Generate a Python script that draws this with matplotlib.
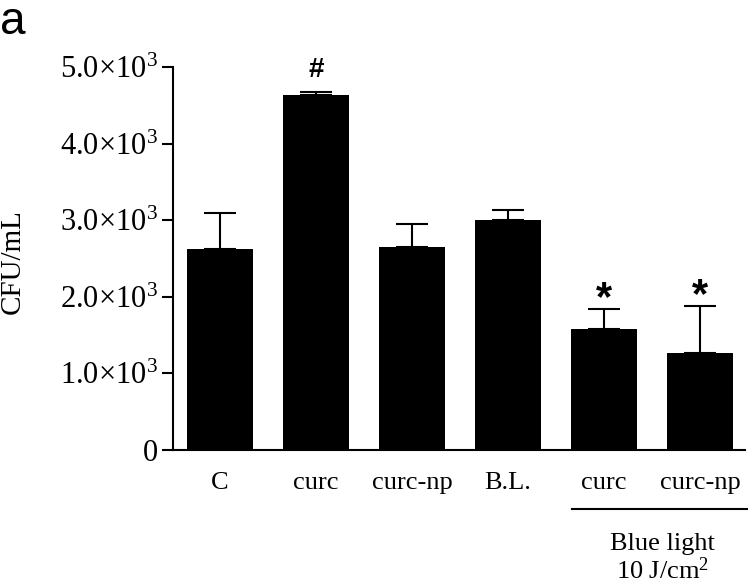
import numpy as np
import matplotlib.pyplot as plt

# data (CFU/mL, x10^3)
groups = ['C', 'curc', 'curc-np', 'B.L.', 'curc', 'curc-np']
means = np.array([2.63, 4.63, 2.65, 3.00, 1.58, 1.27]) * 1e3
errs = np.array([0.47, 0.04, 0.30, 0.13, 0.26, 0.61]) * 1e3
marks = ['', '#', '', '', '*', '*']
yticks = [0, 1000, 2000, 3000, 4000, 5000]
yticklabels = ['0'] + [r'$%d.0{\times}10^{3}$' % k for k in range(1, 6)]

serif = ['Liberation Serif', 'DejaVu Serif']
plt.rcParams['font.family'] = serif
plt.rcParams['font.size'] = 19
plt.rcParams['mathtext.fontset'] = 'custom'
plt.rcParams['mathtext.rm'] = 'Liberation Serif'
plt.rcParams['mathtext.it'] = 'Liberation Serif'
plt.rcParams['mathtext.default'] = 'regular'

fig = plt.figure(figsize=(7.49, 5.87), dpi=100)
ax = fig.add_axes([173 / 749, 1 - 450 / 587, (745 - 173) / 749, (450 - 67) / 587])

x = np.arange(len(groups))
ax.bar(x, means, width=0.68, color='black', zorder=2)
ax.errorbar(x, means, yerr=[np.zeros_like(errs), errs], fmt='none',
            ecolor='black', elinewidth=1.5, capsize=11.5, capthick=1.5, zorder=1)

for xi, m, e, s in zip(x, means, errs, marks):
    if not s:
        continue
    off = 16 if s == '#' else 7
    ax.annotate(s, (xi, m + e), xytext=(0, off), textcoords='offset points',
                ha='center', va='center', fontsize=20 if s == '#' else 30,
                fontweight='bold', family='Liberation Sans')

ax.set_xlim(-0.49, 5.47)
ax.set_ylim(0, 5000)
ax.set_xticks(x)
ax.set_xticklabels(groups)
ax.set_yticks(yticks)
ax.set_yticklabels(yticklabels)
ax.tick_params(axis='x', length=0, pad=16)
ax.tick_params(axis='y', length=8, width=1.5, pad=3, labelsize=22)
for side in ['top', 'right']:
    ax.spines[side].set_visible(False)
for side in ['left', 'bottom']:
    ax.spines[side].set_linewidth(1.5)

# "Blue light" grouping bar under the last two groups
tr = ax.get_xaxis_transform()
ax.plot([3.67, 5.49], [-0.154, -0.154], color='black', lw=1.5,
        transform=tr, clip_on=False)
ax.text(4.61, -0.245, 'Blue light', transform=tr, ha='center', va='center')
ax.text(4.61, -0.315, r'10 J/cm$^{2}$', transform=tr, ha='center', va='center')

fig.text(13 / 749, 1 - 262 / 587, 'CFU/mL', rotation=90, ha='center', va='center',
         fontsize=21)
fig.text(0.0, 1 - 34 / 587, 'a', fontsize=33, family='Liberation Sans', va='baseline')

fig.savefig('out.png', dpi=100)
